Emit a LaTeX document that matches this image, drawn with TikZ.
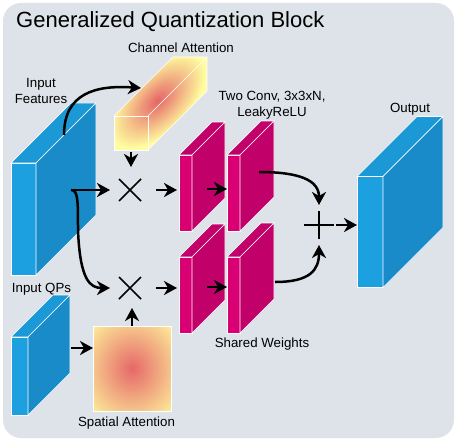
\documentclass[tikz,border=0pt]{standalone}
\usepackage{fontspec}
\setmainfont{Liberation Sans}
\usepackage{xcolor}
\usepackage{tikz}
\usetikzlibrary{arrows.meta}
\usetikzlibrary{positioning, calc}
\definecolor{bg}{RGB}{221,227,233}
\definecolor{bluefront}{RGB}{29,160,223}
\definecolor{bluetop}{RGB}{27,152,214}
\definecolor{blueside}{RGB}{25,139,200}
\definecolor{magfront}{RGB}{216,0,115}
\definecolor{magside}{RGB}{194,0,106}
\definecolor{attred}{RGB}{230,104,104}
\definecolor{attyellow}{RGB}{255,253,160}
\pgfdeclareradialshading{spot}{\pgfpoint{0bp}{0bp}}{color(0bp)=(attred); color(40bp)=(attyellow); color(50bp)=(attyellow)}
\tikzstyle{txt} = [font=\fontsize{13.3}{17}\selectfont, inner sep=0, anchor=base]
\tikzstyle{face} = [draw=white, line width=0.6pt, inner sep=0, outer sep=0]
\tikzstyle{arrow} = [line width=2.5pt, -{Stealth[length=13pt, width=14pt, inset=4pt]}]
\tikzstyle{op} = [minimum size=40pt, inner sep=0, outer sep=0]
\tikzstyle{opline} = [line width=1.6pt]
% top and side of a slab whose front face is node #1
\newcommand{\slab}[4]{%
  \filldraw[face, fill=#3] (#1.north west) -- ++(#2,-#2) -- ($(#1.north east)+(#2,-#2)$) -- (#1.north east) -- cycle;
  \filldraw[face, fill=#4] (#1.north east) -- ($(#1.north east)+(#2,-#2)$) -- ($(#1.south east)+(#2,-#2)$) -- (#1.south east) -- cycle;
}

\begin{document}
\begin{tikzpicture}[x=1pt, y=-1pt]
    \useasboundingbox (0,0) rectangle (457,441);
    \fill[bg, rounded corners=18pt] (3,3) rectangle (454,438);
    \node(title)[anchor=base west, inner sep=0, font=\fontsize{22}{26}\selectfont] at (16,27.5) {Generalized Quantization Block};
    %
    \node(in)[face, fill=bluefront, minimum width=25pt, minimum height=112pt] at (23.5,219) {};
    \slab{in}{60}{bluetop}{blueside}
    \node(qp)[face, fill=bluefront, minimum width=17pt, minimum height=78pt] at (19.5,376) {};
    \slab{qp}{42}{bluetop}{blueside}
    \node(out)[face, fill=bluefront, minimum width=26pt, minimum height=111pt] at (370,232) {};
    \slab{out}{60}{bluetop}{blueside}
    %
    \node(c1a)[face, fill=magfront, minimum width=13pt, minimum height=76pt] at (185.5,193) {};
    \slab{c1a}{33}{magside}{magside}
    \node(c2a)[face, fill=magfront, minimum width=13pt, minimum height=76pt] at (233.5,193) {};
    \slab{c2a}{34}{magside}{magside}
    \node(c1b)[face, fill=magfront, minimum width=13pt, minimum height=76pt] at (185.5,295) {};
    \slab{c1b}{33}{magside}{magside}
    \node(c2b)[face, fill=magfront, minimum width=13pt, minimum height=76pt] at (233.5,295) {};
    \slab{c2b}{34}{magside}{magside}
    %
    \node(chan)[minimum width=34pt, minimum height=34pt, inner sep=0, outer sep=0] at (131,133) {};
    \coordinate(glow) at (158,101);
    \begin{scope}
      \clip (chan.south west) -- (chan.north west) -- ++(59,-59) -- ($(chan.north east)+(59,-59)$) -- ($(chan.south east)+(59,-59)$) -- (chan.south east) -- cycle;
      \fill[attyellow] (100,40) rectangle (220,160);
      \foreach \i in {0,...,29} {
        \pgfmathsetmacro\f{1-\i/30}
        \pgfmathsetmacro\p{100*\i/29}
        \fill[attred!\p!attyellow, rotate around={45:(glow)}] (glow) ellipse ({60*\f} and {32*\f});
      }
    \end{scope}
    \draw[face] (chan.south west) rectangle (chan.north east);
    \draw[face] (chan.north west) -- ++(59,-59) -- ($(chan.north east)+(59,-59)$) -- ($(chan.south east)+(59,-59)$) -- (chan.south east);
    \draw[face] (chan.north east) -- ++(59,-59);
    \node(spa)[face, shade, shading=spot, minimum width=78pt, minimum height=85pt] at (132,368.5) {};
    %
    \node(mul1)[op] at (130,190) {};
    \node(mul2)[op] at (130,288) {};
    \node(add)[op] at (319,225) {};
    \foreach \m in {mul1, mul2}
      \draw[opline] ($(\m)+(-11,-11)$) -- ($(\m)+(11,11)$) ($(\m)+(-11,11)$) -- ($(\m)+(11,-11)$);
    \draw[opline] ($(add)+(-15,0)$) -- ($(add)+(15,0)$) ($(add)+(0,-14)$) -- ($(add)+(0,14)$);
    %
    \coordinate(split) at ($(in.east)+(35,-29)$);
    \coordinate(qpo) at ($(qp.east)+(43,-28)$);
    \draw [arrow] ($(in.north east)+(28,-28)$) .. controls +(0,-42) and +(-45,-3) .. ($(chan.north west)+(27,-28)$);
    \draw [arrow, shorten <=2pt, shorten >=3pt] (chan.south) -- (chan.south |- mul1.north);
    \draw [arrow] (split) -- (split -| mul1.west);
    \draw [arrow] (split) .. controls +(7,0) and +(0,-30) .. ($(split)+(7,40)$) .. controls +(2,50) and +(-20,0) .. (mul2.west);
    \draw [arrow] (qpo) -- (qpo -| spa.west);
    \draw [arrow] (spa.north) -- (spa.north |- mul2.south);
    \draw [arrow, shorten <=6pt, shorten >=2pt] (mul1.east) -- (mul1.east -| c1a.west);
    \draw [arrow, shorten <=6pt, shorten >=2pt] (mul2.east) -- (mul2.east -| c1b.west);
    \draw [arrow] ($(c1a.east)+(15,-4)$) -- ($(c2a.west)+(0,-4)$);
    \draw [arrow] ($(c1b.east)+(15,-8)$) -- ($(c2b.west)+(0,-8)$);
    \draw [arrow] ($(c2a.east)+(19,-21)$) .. controls +(40,0) and +(0,-25) .. (add.north);
    \draw [arrow] ($(c2b.east)+(35,-13)$) .. controls +(35,0) and +(0,25) .. (add.south);
    \draw [arrow, shorten <=-3pt] (add.east) -- (add.east -| out.west);
    %
    \node(inlbl)[txt] at (41,88) {Input};
    \node(featlbl)[txt] at (41,103) {Features};
    \node(chanlbl)[txt] at (181,52.7) {Channel Attention};
    \node(convlbl)[txt] at (272,100) {Two Conv, 3x3xN,};
    \node(relulbl)[txt] at (272,117) {LeakyReLU};
    \node(outlbl)[txt] at (410,112.5) {Output};
    \node(sharedlbl)[txt] at (262,347.5) {Shared Weights};
    \node(qplbl)[txt] at (41.5,292.5) {Input QPs};
    \node(spalbl)[txt] at (126.5,426.5) {Spatial Attention};
\end{tikzpicture}
\end{document}
